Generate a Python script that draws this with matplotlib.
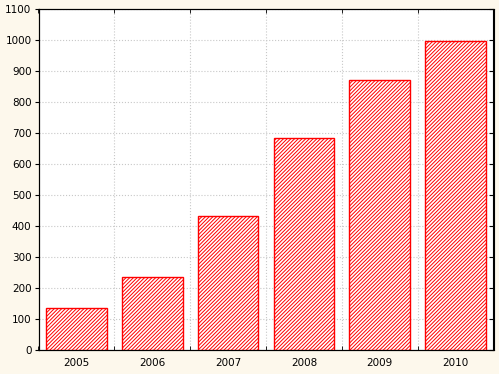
import matplotlib.pyplot as plt
import numpy as np

plt.rcParams['hatch.linewidth'] = 0.7

years = ['2005', '2006', '2007', '2008', '2009', '2010']
values = [135, 237, 433, 683, 871, 998]
y_ticks = list(range(0, 1101, 100))

fig = plt.figure(figsize=(4.99, 3.74), dpi=100, facecolor='#fdf8ec')
ax = fig.add_axes([38.5 / 499, 24 / 374, 455 / 499, 341 / 374])

x = np.arange(len(years))
ax.bar(x, values, width=0.8, color='white', edgecolor='red',
       hatch='/////////', linewidth=1.0, zorder=3)

ax.set_xlim(-0.5, len(years) - 0.5)
ax.set_ylim(0, 1100)
ax.set_yticks(y_ticks)
ax.set_xticks(x)
ax.set_xticklabels(years)
ax.tick_params(axis='both', labelsize=7.5, length=0, pad=6)
ax.tick_params(axis='y', length=3, direction='out', pad=2)

# category boundaries for vertical grid
ax.set_xticks(np.arange(-0.5, len(years)), minor=True)
ax.tick_params(axis='x', which='minor', length=3, direction='in', top=True)
ax.grid(True, which='minor', axis='x', color='#c8c8c8', linestyle=':', linewidth=0.8, zorder=0)
ax.grid(True, which='major', axis='y', color='#c8c8c8', linestyle=':', linewidth=0.8, zorder=0)

# right side ticks point inward
ax2 = ax.twinx()
ax2.set_ylim(0, 1100)
ax2.set_yticks(y_ticks)
ax2.tick_params(axis='y', direction='in', length=3, labelright=False)

for a in (ax, ax2):
    for s in a.spines.values():
        s.set_color('black')
        s.set_linewidth(0.8)

fig.savefig('out.png', dpi=100, facecolor=fig.get_facecolor())
